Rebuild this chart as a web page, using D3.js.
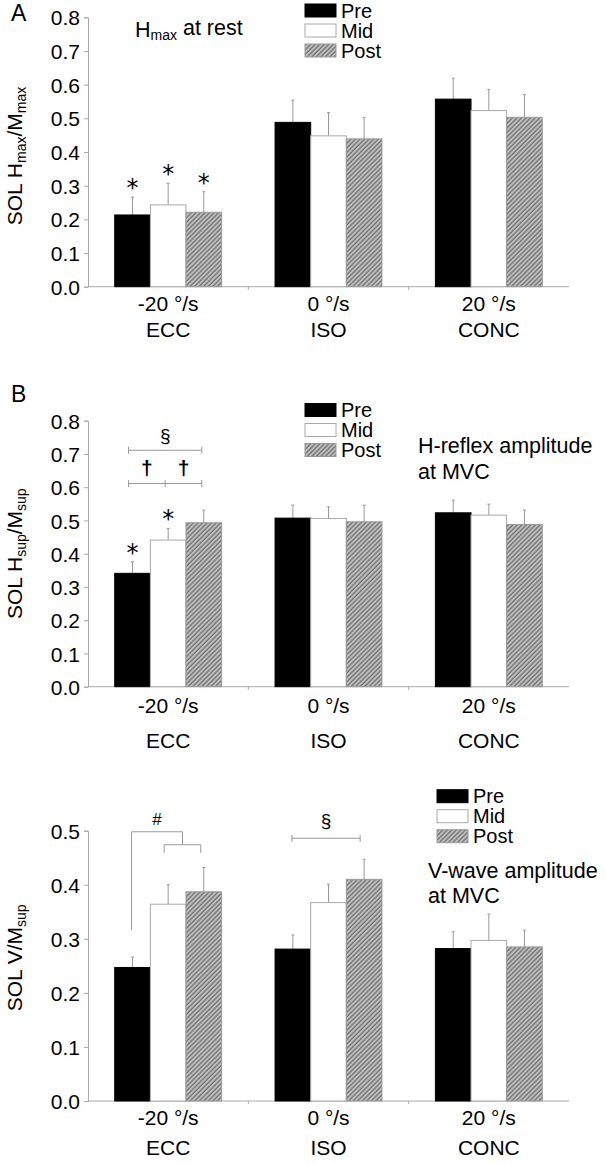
<!DOCTYPE html>
<html>
<head>
<meta charset="utf-8">
<script src="https://cdn.jsdelivr.net/npm/d3@7"></script>
<style>
  body { margin: 0; background: #fff; }
  text { font-family: "Liberation Sans", Arial, sans-serif; fill: #000; }
</style>
</head>
<body>
<div id="chart"></div>
<script>
const categories = ["-20 °/s", "0 °/s", "20 °/s"];
const conditions = ["ECC", "ISO", "CONC"];
const series = ["Pre", "Mid", "Post"];

// A: Hmax at rest
const hmaxPre = [0.213, 0.488, 0.557];
const hmaxMid = [0.243, 0.448, 0.523];
const hmaxPost = [0.221, 0.439, 0.503];
const hmaxPreSD = [0.053, 0.066, 0.062];
const hmaxMidSD = [0.064, 0.069, 0.063];
const hmaxPostSD = [0.061, 0.064, 0.067];
const hmaxTicks = [0, 0.1, 0.2, 0.3, 0.4, 0.5, 0.6, 0.7, 0.8];

// B: H-reflex at MVC
const hsupPre = [0.341, 0.507, 0.523];
const hsupMid = [0.441, 0.506, 0.516];
const hsupPost = [0.493, 0.496, 0.488];
const hsupPreSD = [0.035, 0.039, 0.038];
const hsupMidSD = [0.035, 0.035, 0.033];
const hsupPostSD = [0.038, 0.050, 0.043];
const hsupTicks = [0, 0.1, 0.2, 0.3, 0.4, 0.5, 0.6, 0.7, 0.8];

// C: V-wave at MVC
const vwPre = [0.247, 0.281, 0.282];
const vwMid = [0.364, 0.367, 0.297];
const vwPost = [0.387, 0.410, 0.285];
const vwPreSD = [0.019, 0.026, 0.031];
const vwMidSD = [0.036, 0.034, 0.049];
const vwPostSD = [0.045, 0.037, 0.031];
const vwTicks = [0, 0.1, 0.2, 0.3, 0.4, 0.5];

const W = 606, H = 1163;
const axisGrey = "#aaa", errGrey = "#999";

const svg = d3.select("#chart").append("svg")
  .attr("width", W).attr("height", H);

const defs = svg.append("defs");
const pat = defs.append("pattern")
  .attr("id", "hatch")
  .attr("patternUnits", "userSpaceOnUse")
  .attr("width", 3.2).attr("height", 3.2)
  .attr("patternTransform", "rotate(45)");
pat.append("rect").attr("width", 3.2).attr("height", 3.2).attr("fill", "#c4c4c4");
pat.append("line").attr("x1", 1).attr("y1", 0).attr("x2", 1).attr("y2", 3.2)
  .attr("stroke", "#707070").attr("stroke-width", 1.4);

const fills = { Pre: "#000", Mid: "#fff", Post: "url(#hatch)" };
const strokes = { Pre: "#000", Mid: "#aaa", Post: "#999" };

function drawPanel(cfg) {
  const g = svg.append("g");
  const x0 = d3.scaleBand().domain(categories).range([88, 569]);
  const x1 = d3.scaleBand().domain(series).range([0, x0.bandwidth()]).paddingOuter(0.75);
  const y = d3.scaleLinear().domain([0, cfg.max]).range(cfg.yRange);
  const cx = (i, s) => x0(categories[i]) + x1(s) + x1.bandwidth() / 2;

  // y axis
  const ya = g.append("g").attr("transform", "translate(88,0)")
    .call(d3.axisLeft(y).tickValues(cfg.ticks).tickFormat(d3.format(".1f")).tickSize(4).tickPadding(4));
  ya.select(".domain").attr("stroke", axisGrey);
  ya.selectAll(".tick line").attr("stroke", axisGrey);
  ya.selectAll("text").style("font-size", "21px").attr("font-family", "Liberation Sans, Arial, sans-serif").attr("dy", "0.36em");

  // x axis
  const xa = g.append("g").attr("transform", `translate(0,${y(0)})`);
  xa.append("line").attr("x1", x0.range()[0]).attr("x2", x0.range()[1])
    .attr("stroke", axisGrey);
  xa.selectAll(".sep").data(categories.slice(1)).enter().append("line")
    .attr("x1", d => x0(d)).attr("x2", d => x0(d)).attr("y1", 0).attr("y2", 3)
    .attr("stroke", axisGrey);
  xa.selectAll(".cat").data(categories).enter().append("text")
    .attr("x", d => x0(d) + x0.bandwidth() / 2).attr("y", cfg.catDy[0])
    .attr("text-anchor", "middle").style("font-size", "21px").text(d => d);
  xa.selectAll(".cond").data(conditions).enter().append("text")
    .attr("x", (d, i) => x0(categories[i]) + x0.bandwidth() / 2).attr("y", cfg.catDy[1])
    .attr("text-anchor", "middle").style("font-size", "21px").text(d => d);

  // bars
  series.forEach(s => {
    const vals = cfg.means[s], sds = cfg.sds[s];
    const bg = g.append("g");
    bg.selectAll("line.err").data(vals).enter().append("line")
      .attr("x1", (d, i) => cx(i, s)).attr("x2", (d, i) => cx(i, s))
      .attr("y1", d => y(d)).attr("y2", (d, i) => y(d + sds[i]))
      .attr("stroke", errGrey);
    bg.selectAll("line.cap").data(vals).enter().append("line")
      .attr("x1", (d, i) => cx(i, s) - 1.5).attr("x2", (d, i) => cx(i, s) + 1.5)
      .attr("y1", (d, i) => y(d + sds[i])).attr("y2", (d, i) => y(d + sds[i]))
      .attr("stroke", errGrey);
    bg.selectAll("rect").data(vals).enter().append("rect")
      .attr("x", (d, i) => x0(categories[i]) + x1(s))
      .attr("y", d => y(d))
      .attr("width", x1.bandwidth())
      .attr("height", d => y(0) - y(d))
      .attr("fill", fills[s])
      .attr("stroke", strokes[s]).attr("stroke-width", 1);
  });

  // stars
  (cfg.stars || []).forEach(([i, s]) => {
    const top = y(cfg.means[s][i] + cfg.sds[s][i]);
    g.append("text").attr("x", cx(i, s)).attr("y", top - 1)
      .attr("text-anchor", "middle")
      .style("font-family", "DejaVu Sans, sans-serif").style("font-size", "24px").text("*");
  });

  // legend
  const lg = g.append("g").attr("transform", `translate(${cfg.legend[0]},${cfg.legend[1]})`);
  series.forEach((s, k) => {
    lg.append("rect").attr("x", 0).attr("y", k * 20 - 13).attr("width", 31).attr("height", 13)
      .attr("fill", fills[s]).attr("stroke", strokes[s]);
    lg.append("text").attr("x", 36).attr("y", k * 20 + 0.5).style("font-size", "20px").text(s);
  });

  // y label with subscripts
  const yl = g.append("text")
    .attr("transform", `translate(${cfg.ylabelX},${(cfg.yRange[0] + cfg.yRange[1]) / 2 + cfg.ylabelShift}) rotate(-90)`)
    .attr("text-anchor", "middle").style("font-size", "21px");
  cfg.ylabel.forEach(([t, sub], k) => {
    const prevSub = k > 0 && cfg.ylabel[k - 1][1];
    const ts = yl.append("tspan").text(t);
    if (sub) ts.attr("dy", "0.3em").style("font-size", "14px");
    else if (prevSub) ts.attr("dy", "-0.2em");
  });

  if (cfg.letter) {
    g.append("text").attr("x", 11).attr("y", cfg.letter[1]).style("font-size", "23px").text(cfg.letter[0]);
  }
  return { g, x0, x1, y, cx };
}

// Panel A
const A = drawPanel({
  max: 0.8, yRange: [286.7, 17.3], ticks: hmaxTicks, catDy: [24, 50],
  means: { Pre: hmaxPre, Mid: hmaxMid, Post: hmaxPost },
  sds: { Pre: hmaxPreSD, Mid: hmaxMidSD, Post: hmaxPostSD },
  stars: [[0, "Pre"], [0, "Mid"], [0, "Post"]],
  legend: [305, 17],
  ylabel: [["SOL H", 0], ["max", 1], ["/M", 0], ["max", 1]], ylabelX: 22, ylabelShift: 4,
  letter: ["A", 21]
});
const ta = A.g.append("text").attr("x", 135).attr("y", 36.5).style("font-size", "21.5px");
ta.append("tspan").text("H");
ta.append("tspan").attr("dy", "0.25em").style("font-size", "14px").text("max");
ta.append("tspan").attr("dy", "-0.25em").text(" at rest");

// Panel B
const B = drawPanel({
  max: 0.8, yRange: [686.7, 420.7], ticks: hsupTicks, catDy: [26.5, 61.5],
  means: { Pre: hsupPre, Mid: hsupMid, Post: hsupPost },
  sds: { Pre: hsupPreSD, Mid: hsupMidSD, Post: hsupPostSD },
  stars: [[0, "Pre"], [0, "Mid"]],
  legend: [305, 416.5],
  ylabel: [["SOL H", 0], ["sup", 1], ["/M", 0], ["sup", 1]], ylabelX: 22, ylabelShift: 0,
  letter: ["B", 401.5]
});
B.g.append("text").attr("x", 418).attr("y", 453.3).style("font-size", "21.5px").text("H-reflex amplitude");
B.g.append("text").attr("x", 418).attr("y", 479.3).style("font-size", "21.5px").text("at MVC");

// significance lines
const bracketLine = (p, xa, xb, v, ticksAt) => {
  p.g.append("line").attr("x1", xa).attr("x2", xb).attr("y1", p.y(v)).attr("y2", p.y(v)).attr("stroke", errGrey);
  ticksAt.forEach(xt => p.g.append("line").attr("x1", xt).attr("x2", xt)
    .attr("y1", p.y(v) - 3.5).attr("y2", p.y(v) + 3.5).attr("stroke", errGrey));
};
const bPre = B.cx(0, "Pre") - 4, bMid = B.cx(0, "Mid") - 3, bPost = B.cx(0, "Post") - 2;
bracketLine(B, bPre, bPost, 0.711, [bPre, bPost]);
bracketLine(B, bPre, bPost, 0.611, [bPre, bMid, bPost]);
B.g.append("text").attr("x", (bPre + bPost) / 2).attr("y", B.y(0.711) - 8.5)
  .attr("text-anchor", "middle").style("font-size", "19px").text("§");
[(bPre + bMid) / 2, (bMid + bPost) / 2].forEach(xd =>
  B.g.append("text").attr("x", xd).attr("y", B.y(0.611) - 9)
    .attr("text-anchor", "middle").style("font-size", "21px").style("font-weight", "bold").text("†"));

// Panel C
const C = drawPanel({
  max: 0.5, yRange: [1101, 830.7], ticks: vwTicks, catDy: [24, 54],
  means: { Pre: vwPre, Mid: vwMid, Post: vwPost },
  sds: { Pre: vwPreSD, Mid: vwMidSD, Post: vwPostSD },
  stars: [],
  legend: [437, 802.7],
  ylabel: [["SOL V/M", 0], ["sup", 1]], ylabelX: 22, ylabelShift: -8,
  letter: null
});
C.g.append("text").attr("x", 428).attr("y", 878.3).style("font-size", "21.5px").text("V-wave amplitude");
C.g.append("text").attr("x", 428).attr("y", 903.3).style("font-size", "21.5px").text("at MVC");

// # bracket: Pre vs Mid/Post at ECC
const cPre = C.cx(0, "Pre") - 1, cMid = C.cx(0, "Mid") - 4, cPost = C.cx(0, "Post") - 3;
const cJoin = (cMid + cPost) / 2;
const path = d3.path();
path.moveTo(cPre, C.y(0.316)); path.lineTo(cPre, C.y(0.498));
path.lineTo(cJoin, C.y(0.498)); path.lineTo(cJoin, C.y(0.474));
path.moveTo(cMid, C.y(0.459)); path.lineTo(cMid, C.y(0.474));
path.lineTo(cPost, C.y(0.474)); path.lineTo(cPost, C.y(0.459));
C.g.append("path").attr("d", path.toString()).attr("fill", "none").attr("stroke", errGrey);
C.g.append("text").attr("x", (cPre + cJoin) / 2).attr("y", C.y(0.498) - 7)
  .attr("text-anchor", "middle").style("font-size", "17px").text("#");

// § line at ISO
const iPre = C.cx(1, "Pre") - 1, iPost = C.cx(1, "Post") - 4;
bracketLine(C, iPre, iPost, 0.486, [iPre, iPost]);
C.g.append("text").attr("x", (iPre + iPost) / 2).attr("y", C.y(0.486) - 11)
  .attr("text-anchor", "middle").style("font-size", "19px").text("§");
</script>
</body>
</html>
